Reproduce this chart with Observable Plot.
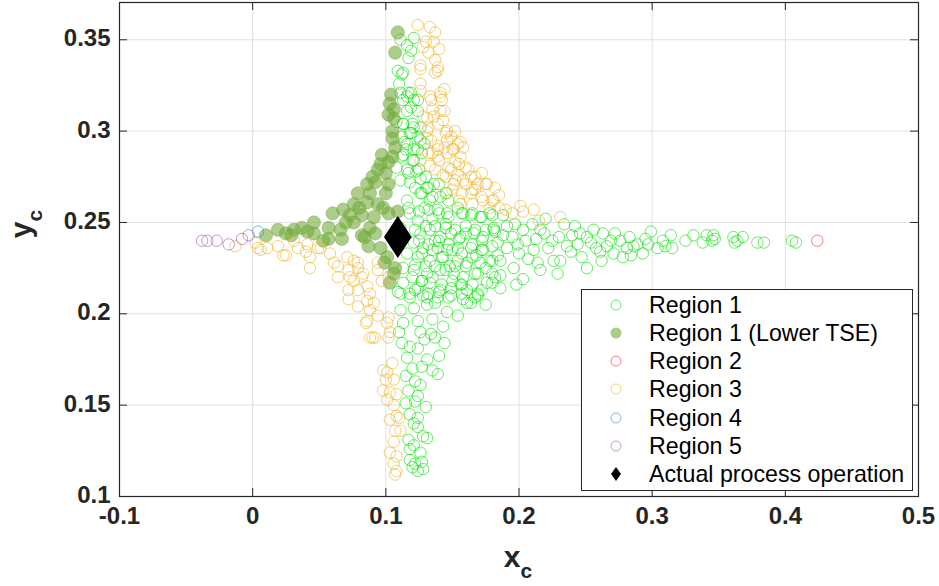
<!DOCTYPE html>
<html><head><meta charset="utf-8">
<script src="https://cdn.jsdelivr.net/npm/d3@7"></script>
<script src="https://cdn.jsdelivr.net/npm/@observablehq/plot@0.6"></script>
<style>body{margin:0;background:#fff;} svg{display:block;}</style>
</head><body><div id="chart"></div>
<script>
const xTicks = [-0.1, 0, 0.1, 0.2, 0.3, 0.4, 0.5];
const xTickLabels = ["-0.1", "0", "0.1", "0.2", "0.3", "0.4", "0.5"];
const yTicks = [0.1, 0.15, 0.2, 0.25, 0.3, 0.35];
const yTickLabels = ["0.1", "0.15", "0.2", "0.25", "0.3", "0.35"];
const legendLabels = ["Region 1", "Region 1 (Lower TSE)", "Region 2", "Region 3", "Region 4", "Region 5", "Actual process operation"];

// Region 1 (hollow green)
const region1 = [
[0.111,0.350],[0.116,0.347],[0.121,0.351],[0.117,0.340],[0.109,0.333],[0.112,0.331],[0.111,0.321],[0.117,0.321],[0.113,0.317],[0.121,0.317],[0.116,0.311],[0.124,0.311],[0.113,0.304],[0.120,0.304],[0.118,0.299],[0.112,0.297],[0.124,0.297],[0.121,0.290],[0.127,0.288],[0.115,0.290],
[0.110,0.326],[0.119,0.344],[0.126,0.302],[0.129,0.293],[0.108,0.305],[0.114,0.294],
[0.113,0.332],[0.119,0.321],[0.116,0.319],[0.124,0.317],[0.119,0.313],[0.113,0.304],[0.121,0.302],[0.119,0.299],[0.126,0.295],[0.116,0.293],[0.124,0.290],
[0.113,0.287],[0.121,0.284],[0.116,0.279],[0.111,0.273],[0.118,0.272],[0.126,0.274],[0.131,0.269],[0.126,0.266],[0.133,0.262],[0.141,0.264],[0.139,0.257],[0.146,0.255],[0.154,0.258],[0.158,0.255],[0.164,0.254],[0.171,0.253],[0.178,0.255],[0.116,0.262],[0.118,0.255],[0.111,0.247],[0.126,0.244],[0.133,0.246],[0.141,0.242],[0.149,0.244],[0.156,0.242],[0.166,0.244],[0.173,0.242],[0.181,0.246],[0.121,0.239],[0.128,0.236],[0.139,0.236],[0.146,0.235],[0.154,0.236],[0.164,0.236],[0.173,0.235],[0.116,0.233],[0.124,0.231],[0.133,0.229],[0.143,0.231],[0.154,0.229],[0.161,0.228],[0.171,0.228],[0.178,0.229],[0.113,0.225],[0.121,0.224],[0.131,0.222],[0.141,0.224],[0.151,0.222],[0.158,0.220],[0.169,0.222],[0.176,0.217],[0.113,0.217],[0.124,0.214],[0.133,0.217],[0.141,0.213],[0.149,0.214],[0.161,0.213],[0.169,0.211],[0.118,0.211],[0.131,0.209],
[0.108,0.280],[0.123,0.278],[0.136,0.271],[0.129,0.258],[0.147,0.262],[0.124,0.251],[0.135,0.252],[0.110,0.240],[0.145,0.249],[0.160,0.248],[0.137,0.240],[0.168,0.232],[0.148,0.226],[0.127,0.218],[0.156,0.216],[0.109,0.212],[0.137,0.206],[0.161,0.206],[0.180,0.222],[0.184,0.232],[0.186,0.214],[0.175,0.205],
[0.112,0.286],[0.120,0.284],[0.117,0.277],[0.125,0.279],[0.130,0.275],[0.122,0.269],[0.132,0.269],[0.140,0.271],[0.145,0.266],[0.127,0.266],[0.135,0.264],[0.117,0.258],[0.125,0.256],[0.132,0.257],[0.140,0.255],[0.147,0.253],[0.157,0.255],[0.165,0.255],[0.172,0.253],[0.180,0.254],
[0.122,0.246],[0.130,0.248],[0.137,0.248],[0.145,0.247],[0.152,0.246],[0.160,0.244],[0.167,0.246],[0.175,0.246],[0.182,0.245],[0.125,0.240],[0.132,0.238],[0.140,0.240],[0.147,0.238],[0.155,0.241],[0.165,0.238],[0.172,0.240],[0.180,0.237],
[0.127,0.233],[0.135,0.235],[0.142,0.231],[0.150,0.235],[0.157,0.233],[0.165,0.231],[0.172,0.235],[0.180,0.229],[0.122,0.227],[0.130,0.226],[0.137,0.226],[0.145,0.224],[0.152,0.226],[0.160,0.226],[0.167,0.222],[0.175,0.225],[0.182,0.220],
[0.120,0.220],[0.127,0.218],[0.135,0.220],[0.142,0.216],[0.150,0.218],[0.157,0.216],[0.165,0.216],[0.172,0.213],[0.180,0.217],[0.122,0.213],[0.132,0.211],[0.140,0.212],[0.147,0.209],[0.157,0.211],[0.167,0.209],
[0.111,0.211],[0.118,0.209],[0.128,0.210],[0.139,0.209],[0.149,0.210],[0.158,0.208],[0.169,0.210],[0.111,0.202],[0.121,0.203],[0.131,0.205],[0.146,0.201],[0.154,0.199],[0.164,0.206],[0.113,0.195],[0.124,0.196],[0.135,0.197],[0.143,0.193],[0.126,0.190],[0.134,0.189],[0.137,0.187],[0.112,0.184],[0.118,0.182],[0.124,0.181],[0.140,0.177],[0.116,0.176],[0.127,0.171],[0.135,0.169],[0.139,0.167],[0.115,0.166],[0.122,0.163],[0.126,0.161],[0.117,0.158],[0.124,0.155],[0.115,0.151],[0.122,0.152],[0.130,0.149],[0.118,0.145],[0.124,0.143],[0.124,0.138],[0.128,0.133],[0.131,0.132],[0.117,0.131],[0.118,0.126],[0.121,0.128],[0.118,0.120],[0.122,0.118],[0.127,0.119],[0.124,0.114],[0.128,0.115],[0.120,0.116],
[0.129,0.186],[0.120,0.170],[0.131,0.175],[0.121,0.140],[0.126,0.124],[0.110,0.190],[0.144,0.184],
[0.181,0.247],[0.191,0.248],[0.197,0.249],[0.184,0.239],[0.191,0.236],[0.200,0.233],[0.186,0.229],[0.196,0.225],[0.186,0.221],[0.203,0.246],[0.210,0.249],[0.216,0.246],[0.225,0.240],[0.222,0.236],[0.211,0.235],[0.214,0.228],[0.216,0.224],[0.226,0.229],[0.231,0.229],[0.239,0.234],[0.244,0.238],[0.242,0.248],[0.234,0.249],[0.251,0.242],[0.251,0.225],[0.256,0.246],[0.263,0.244],[0.269,0.240],[0.271,0.233],[0.276,0.240],[0.281,0.236],[0.278,0.231],[0.286,0.237],[0.293,0.233],[0.299,0.245],[0.304,0.236],[0.308,0.240],[0.289,0.238],[0.297,0.238],[0.261,0.234],[0.266,0.237],
[0.314,0.243],[0.315,0.236],[0.310,0.237],[0.325,0.240],[0.331,0.243],[0.338,0.239],[0.341,0.243],[0.346,0.243],[0.347,0.241],[0.345,0.240],[0.361,0.242],[0.368,0.242],[0.362,0.239],[0.364,0.240],[0.379,0.239],[0.384,0.239],[0.405,0.240],[0.408,0.239],
[0.205,0.240],[0.195,0.242],[0.220,0.252],[0.230,0.242],[0.236,0.237],[0.247,0.231],[0.258,0.236],[0.283,0.242],[0.203,0.219],[0.213,0.241],[0.254,0.239],[0.272,0.244],[0.229,0.222],[0.240,0.243],[0.188,0.254],[0.198,0.216],
[0.188,0.243],[0.207,0.230],[0.219,0.244],[0.246,0.244],[0.262,0.229],[0.284,0.232],[0.295,0.241],[0.199,0.238]
];

// Region 1 (Lower TSE), filled dark green
const region1Lower = [
[0.109,0.354],[0.107,0.343],[0.103,0.315],[0.106,0.312],[0.106,0.307],[0.102,0.309],[0.105,0.300],[0.105,0.296],[0.107,0.291],[0.102,0.283],[0.096,0.282],[0.094,0.279],[0.100,0.277],[0.092,0.272],[0.086,0.271],[0.102,0.271],[0.088,0.266],[0.079,0.266],[0.100,0.266],[0.094,0.260],[0.086,0.261],[0.076,0.260],[0.068,0.257],[0.060,0.255],[0.073,0.254],[0.082,0.254],[0.091,0.253],[0.102,0.255],[0.109,0.256],[0.046,0.250],[0.057,0.247],[0.076,0.250],[0.088,0.247],[0.066,0.246],[0.046,0.244],[0.037,0.247],[0.031,0.246],[0.025,0.244],[0.019,0.246],[0.010,0.243],[0.057,0.241],[0.067,0.241],[0.082,0.243],[0.053,0.240],[0.087,0.237],[0.096,0.236],[0.101,0.231],[0.107,0.225],[0.106,0.222],[0.103,0.217],[0.098,0.258],[0.084,0.242],
[0.097,0.287],[0.080,0.258],[0.070,0.250],[0.092,0.244],[0.099,0.228],[0.105,0.286],[0.104,0.320],[0.090,0.275],[0.029,0.243],[0.041,0.245]
];

const region2 = [[0.424,0.240]];

const region3 = [
[0.124,0.358],[0.133,0.357],[0.137,0.354],[0.130,0.349],[0.136,0.349],[0.132,0.343],[0.126,0.334],[0.137,0.339],[0.139,0.333],[0.126,0.326],[0.126,0.322],[0.141,0.321],[0.133,0.319],[0.142,0.317],[0.135,0.312],[0.141,0.311],[0.136,0.308],[0.128,0.308],[0.143,0.306],[0.132,0.302],[0.145,0.299],[0.149,0.297],[0.139,0.292],[0.154,0.293],[0.135,0.288],[0.146,0.288],[0.156,0.286],
[0.128,0.346],[0.140,0.345],[0.131,0.296],[0.150,0.290],
[0.126,0.336],[0.139,0.335],[0.137,0.332],[0.144,0.323],[0.141,0.319],[0.134,0.317],[0.144,0.311],[0.131,0.307],[0.139,0.304],[0.146,0.300],[0.152,0.300],[0.131,0.300],[0.134,0.295],[0.146,0.295],[0.156,0.294],[0.139,0.290],[0.144,0.291],[0.151,0.290],[0.158,0.291],
[0.139,0.286],[0.149,0.279],[0.143,0.276],[0.154,0.276],[0.158,0.273],[0.151,0.271],[0.164,0.275],[0.169,0.271],[0.176,0.271],[0.164,0.266],[0.173,0.262],[0.178,0.258],[0.146,0.266],[0.156,0.260],[0.133,0.281],[0.126,0.284],[0.181,0.262],[0.190,0.257],[0.201,0.259],[0.203,0.256],[0.211,0.257],[0.215,0.251],[0.231,0.253],
[0.160,0.280],[0.167,0.268],[0.185,0.265],[0.195,0.255],[0.152,0.283],[0.172,0.277],
[0.132,0.288],[0.140,0.284],[0.147,0.280],[0.155,0.282],[0.162,0.279],[0.145,0.275],[0.152,0.273],[0.160,0.271],[0.167,0.275],[0.175,0.271],[0.182,0.269],[0.150,0.268],[0.157,0.266],[0.165,0.268],[0.172,0.264],[0.180,0.262],[0.185,0.258],[0.165,0.260],[0.155,0.262],[0.137,0.279],
[-0.013,0.237],[0.002,0.239],[0.004,0.236],[0.011,0.236],[0.019,0.237],[0.025,0.232],[0.034,0.236],[0.043,0.231],[0.043,0.225],[0.051,0.236],[0.058,0.233],[0.061,0.228],[0.071,0.231],[0.072,0.224],[0.079,0.228],[0.076,0.218],[0.082,0.220],[0.086,0.215],[0.072,0.213],[0.094,0.224],[0.097,0.218],[0.064,0.220],[0.031,0.240],[0.041,0.238],[0.006,0.235],[0.023,0.232],[0.040,0.234],[0.049,0.236],[0.064,0.226],[0.076,0.229],[0.079,0.225],[0.073,0.220],[0.083,0.222],[0.079,0.213],[0.088,0.211],[0.094,0.228],[0.102,0.220],
[0.072,0.208],[0.079,0.204],[0.088,0.202],[0.085,0.195],[0.094,0.199],[0.090,0.187],[0.102,0.187],[0.101,0.195],[0.086,0.207],[0.091,0.206],[0.086,0.196],[0.102,0.198],[0.088,0.187],[0.092,0.187],[0.103,0.190],
[0.105,0.173],[0.098,0.169],[0.101,0.168],[0.100,0.164],[0.106,0.164],[0.098,0.158],[0.103,0.157],[0.108,0.156],[0.101,0.153],[0.106,0.150],[0.108,0.144],[0.110,0.143],[0.103,0.142],[0.107,0.136],[0.111,0.136],[0.106,0.130],[0.103,0.124],[0.108,0.122],[0.106,0.118],[0.108,0.114],[0.107,0.112]
];

const region4 = [[0.004,0.245]];
const region5 = [[-0.038,0.240],[-0.034,0.240],[-0.027,0.240],[-0.018,0.238],[-0.008,0.241],[-0.003,0.243]];
const actual = [[0.109,0.242]];

const colors = {r1:"#00e000", r1l:"#72a83a", r2:"#ff2020", r3:"#edb120", r4:"#2a88cc", r5:"#9c58a8"};

const W = 939, H = 586, mL = 119, mR = 21, mT = 2, mB = 90;
const plotW = W - mL - mR, plotH = H - mT - mB;
const font = "'Liberation Sans', Arial, Helvetica, sans-serif";
const axisColor = "#262626";
const tallDiamond = {draw(ctx, size) {
  const r = Math.sqrt(size / Math.PI);
  ctx.moveTo(0, -r); ctx.lineTo(0.66 * r, 0); ctx.lineTo(0, r); ctx.lineTo(-0.66 * r, 0); ctx.closePath();
}};
const X = d => d[0], Y = d => d[1];

const svg = Plot.plot({
  width: W, height: H,
  marginLeft: mL, marginRight: mR, marginTop: mT, marginBottom: mB,
  x: {domain: [-0.1, 0.5], axis: null},
  y: {domain: [0.1, 0.3704], axis: null},
  style: {fontFamily: font, background: "#fff", overflow: "visible"},
  marks: [
    Plot.ruleX(xTicks, {stroke: "#e1e1e1"}),
    Plot.ruleY(yTicks, {stroke: "#e1e1e1"}),
    Plot.dot(region1, {x: X, y: Y, r: 5.7, stroke: colors.r1, strokeOpacity: 0.6, strokeWidth: 1}),
    Plot.dot(region1Lower, {x: X, y: Y, r: 6.6, fill: colors.r1l, fillOpacity: 0.58, stroke: colors.r1l, strokeOpacity: 0.45, strokeWidth: 1}),
    Plot.dot(region2, {x: X, y: Y, r: 5.7, stroke: colors.r2, strokeOpacity: 0.6, strokeWidth: 1}),
    Plot.dot(region3, {x: X, y: Y, r: 5.7, stroke: colors.r3, strokeOpacity: 0.6, strokeWidth: 1}),
    Plot.dot(region4, {x: X, y: Y, r: 5.7, stroke: colors.r4, strokeOpacity: 0.6, strokeWidth: 1}),
    Plot.dot(region5, {x: X, y: Y, r: 5.7, stroke: colors.r5, strokeOpacity: 0.6, strokeWidth: 1}),
    Plot.dot(actual, {x: X, y: Y, r: 21, symbol: tallDiamond, fill: "#000", stroke: "none"}),
    // inner ticks (MATLAB style)
    Plot.ruleX(xTicks, {insetTop: plotH - 8, stroke: axisColor}),
    Plot.ruleX(xTicks, {insetBottom: plotH - 8, stroke: axisColor}),
    Plot.ruleY(yTicks, {insetRight: plotW - 8, stroke: axisColor}),
    Plot.ruleY(yTicks, {insetLeft: plotW - 8, stroke: axisColor}),
    Plot.frame({stroke: axisColor, strokeWidth: 1.2}),
    Plot.text(xTicks, {x: d => d, frameAnchor: "bottom", dy: 27, text: (d, i) => xTickLabels[i], fontSize: 24, fontWeight: "bold", fill: axisColor}),
    Plot.text(yTicks, {y: d => d, frameAnchor: "left", dx: -9, dy: -1, textAnchor: "end", text: (d, i) => yTickLabels[i], fontSize: 24, fontWeight: "bold", fill: axisColor})
  ]
});

const s = d3.select(svg);
// axis labels
const xl = s.append("text").attr("x", 518).attr("y", 567).attr("text-anchor", "middle")
  .attr("font-family", font).attr("font-weight", "bold").attr("fill", axisColor);
xl.append("tspan").attr("font-size", 30).text("x");
xl.append("tspan").attr("font-size", 21).attr("dy", 11).text("c");
const yl = s.append("text").attr("transform", "translate(31,224) rotate(-90)").attr("text-anchor", "middle")
  .attr("font-family", font).attr("font-weight", "bold").attr("fill", axisColor);
yl.append("tspan").attr("font-size", 30).text("y");
yl.append("tspan").attr("font-size", 21).attr("dy", 11).text("c");

// legend
const lg = s.append("g").attr("font-family", font).attr("text-anchor", "start");
lg.append("rect").attr("x", 581.5).attr("y", 289.5).attr("width", 331).attr("height", 201)
  .attr("fill", "#fff").attr("stroke", axisColor).attr("stroke-width", 1);
const rowY = [305, 333, 361, 389, 418, 446, 474];
const legendStyles = [
  {stroke: colors.r1}, {fill: colors.r1l}, {stroke: colors.r2}, {stroke: colors.r3},
  {stroke: colors.r4}, {stroke: colors.r5}, {diamond: true}
];
legendLabels.forEach((lab, i) => {
  const st = legendStyles[i], y = rowY[i];
  if (st.diamond) {
    lg.append("path").attr("d", `M616,${y-7}L621,${y}L616,${y+7}L611,${y}Z`).attr("fill", "#000");
  } else if (st.fill) {
    lg.append("circle").attr("cx", 616).attr("cy", y).attr("r", 5.5).attr("fill", st.fill).attr("fill-opacity", 0.6);
  } else {
    lg.append("circle").attr("cx", 616).attr("cy", y).attr("r", 5).attr("fill", "none").attr("stroke", st.stroke).attr("stroke-opacity", 0.6);
  }
  lg.append("text").attr("x", 649).attr("y", y).attr("dy", "0.36em").attr("font-size", 23.2).attr("fill", "#000").attr("text-anchor", "start").text(lab);
});

document.getElementById("chart").appendChild(svg);
</script>
</body></html>
